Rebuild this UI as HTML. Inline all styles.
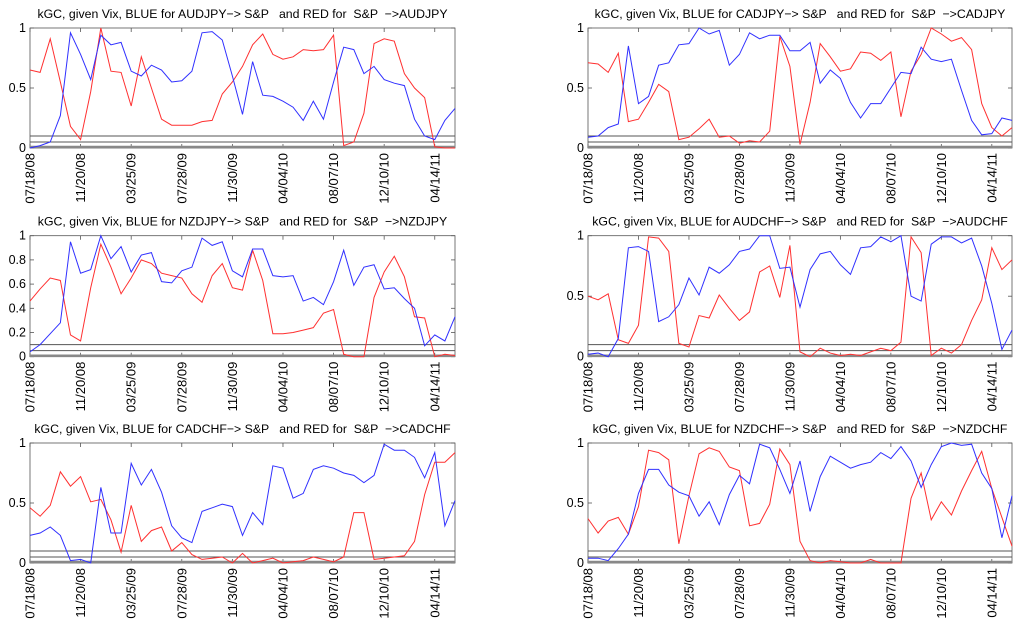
<!DOCTYPE html>
<html><head><meta charset="utf-8"><style>
body{margin:0;background:#fff;width:1024px;height:635px;overflow:hidden}
svg text{font-family:"Liberation Sans",sans-serif;fill:#000}
.ttl{white-space:pre}
</style></head><body>
<svg id="c" width="1024" height="635"></svg>
<script>
const dateLabels=["07/18/08","11/20/08","03/25/09","07/28/09","11/30/09","04/04/10","08/07/10","12/10/10","04/14/11"];
const pairs=["AUDJPY","CADJPY","NZDJPY","AUDCHF","CADCHF","NZDCHF"];
const blueAUDJPY=[0.0,0.02,0.05,0.27,0.96,0.78,0.57,0.94,0.86,0.88,0.64,0.60,0.69,0.65,0.55,0.56,0.64,0.96,0.97,0.90,0.60,0.28,0.72,0.44,0.43,0.39,0.34,0.23,0.39,0.24,0.55,0.84,0.82,0.62,0.68,0.57,0.54,0.52,0.24,0.10,0.07,0.23,0.33];
const redAUDJPY=[0.65,0.63,0.91,0.55,0.18,0.07,0.47,1.0,0.64,0.63,0.35,0.76,0.50,0.24,0.19,0.19,0.19,0.22,0.23,0.45,0.55,0.68,0.86,0.95,0.78,0.74,0.76,0.82,0.81,0.82,0.94,0.02,0.05,0.29,0.87,0.91,0.89,0.62,0.50,0.42,0.01,0.0,0.0];
const blueCADJPY=[0.09,0.10,0.17,0.20,0.85,0.37,0.43,0.69,0.71,0.86,0.87,1.0,0.95,0.98,0.69,0.78,0.96,0.91,0.94,0.94,0.81,0.81,0.88,0.54,0.65,0.58,0.38,0.25,0.37,0.37,0.50,0.63,0.62,0.84,0.74,0.72,0.74,0.48,0.23,0.11,0.12,0.25,0.23];
const redCADJPY=[0.71,0.70,0.63,0.79,0.22,0.24,0.38,0.53,0.47,0.07,0.09,0.16,0.24,0.09,0.10,0.04,0.06,0.05,0.14,0.93,0.68,0.03,0.38,0.87,0.76,0.64,0.66,0.80,0.79,0.73,0.80,0.26,0.64,0.78,1.0,0.95,0.89,0.92,0.82,0.37,0.17,0.10,0.17];
const blueNZDJPY=[0.04,0.10,0.19,0.28,0.95,0.69,0.72,1.0,0.81,0.91,0.70,0.84,0.86,0.62,0.61,0.71,0.74,0.98,0.92,0.95,0.71,0.66,0.89,0.89,0.67,0.66,0.67,0.46,0.49,0.43,0.62,0.88,0.59,0.74,0.76,0.56,0.57,0.48,0.40,0.09,0.18,0.13,0.33];
const redNZDJPY=[0.46,0.56,0.65,0.63,0.18,0.13,0.57,0.93,0.74,0.52,0.65,0.80,0.77,0.69,0.67,0.65,0.52,0.45,0.67,0.77,0.57,0.55,0.88,0.63,0.19,0.19,0.20,0.22,0.24,0.36,0.39,0.02,0.0,0.0,0.49,0.70,0.83,0.66,0.33,0.32,0.0,0.02,0.01];
const blueAUDCHF=[0.02,0.03,0.0,0.15,0.90,0.91,0.87,0.29,0.33,0.43,0.65,0.51,0.74,0.69,0.76,0.87,0.89,1.0,1.0,0.73,0.74,0.41,0.72,0.85,0.87,0.76,0.68,0.90,0.91,0.99,0.95,1.0,0.50,0.46,0.93,0.99,0.99,0.94,0.98,0.75,0.44,0.06,0.22];
const redAUDCHF=[0.50,0.47,0.52,0.14,0.11,0.26,0.99,0.98,0.87,0.11,0.08,0.34,0.32,0.51,0.40,0.30,0.37,0.70,0.75,0.49,0.92,0.04,0.0,0.07,0.03,0.01,0.02,0.01,0.04,0.07,0.05,0.12,0.99,0.86,0.01,0.07,0.03,0.10,0.30,0.47,0.90,0.72,0.80];
const blueCADCHF=[0.23,0.25,0.30,0.23,0.02,0.03,0.0,0.63,0.25,0.25,0.83,0.65,0.78,0.59,0.31,0.21,0.17,0.43,0.46,0.49,0.47,0.23,0.42,0.32,0.81,0.79,0.54,0.58,0.78,0.81,0.79,0.75,0.73,0.67,0.73,0.99,0.94,0.94,0.88,0.71,0.92,0.31,0.52];
const redCADCHF=[0.46,0.39,0.48,0.76,0.64,0.72,0.51,0.53,0.36,0.09,0.48,0.18,0.27,0.30,0.10,0.17,0.07,0.03,0.04,0.05,0.0,0.08,0.0,0.02,0.04,0.0,0.01,0.02,0.05,0.03,0.01,0.05,0.42,0.42,0.03,0.04,0.05,0.06,0.18,0.57,0.84,0.84,0.92];
const blueNZDCHF=[0.04,0.04,0.02,0.12,0.24,0.58,0.78,0.78,0.65,0.59,0.56,0.39,0.51,0.32,0.57,0.73,0.66,0.99,0.96,0.78,0.58,0.85,0.43,0.72,0.89,0.84,0.79,0.82,0.84,0.92,0.87,0.97,0.85,0.63,0.82,0.97,1.0,0.98,0.99,0.75,0.62,0.21,0.56];
const redNZDCHF=[0.37,0.25,0.35,0.38,0.24,0.47,0.94,0.92,0.86,0.16,0.56,0.91,0.96,0.93,0.80,0.77,0.31,0.33,0.49,0.95,0.82,0.18,0.02,0.0,0.02,0.01,0.0,0.0,0.03,0.0,0.0,0.0,0.54,0.75,0.36,0.51,0.40,0.60,0.77,0.93,0.62,0.38,0.14];
const yTicksA=[0,0.5,1];
const yTicksB=[0,0.2,0.4,0.6,0.8,1];
const thresholds=[0.05,0.1];

const blues=[blueAUDJPY,blueCADJPY,blueNZDJPY,blueAUDCHF,blueCADCHF,blueNZDCHF];
const reds=[redAUDJPY,redCADJPY,redNZDJPY,redAUDCHF,redCADCHF,redNZDCHF];
const svg=document.getElementById('c');
const NS='http://www.w3.org/2000/svg';
function mk(tag,attrs,parent){const e=document.createElementNS(NS,tag);for(const k in attrs)e.setAttribute(k,attrs[k]);(parent||svg).appendChild(e);return e;}
const cols=[[30,455],[588,1012]];
const rows=[[28,148],[235.7,356.7],[443,563]];
for(let p=0;p<6;p++){
  const r=Math.floor(p/2),c=p%2;
  const [x0,x1]=cols[c],[y0,y1]=rows[r];
  const g=mk('g',{});
  
  
  const n=blues[p].length;
  const X=i=>x0+i*(x1-x0)/(n-1);
  const Y=v=>y1-v*(y1-y0);
  const t=mk('text',{x:(x0+x1)/2,y:y0-10,'text-anchor':'middle','font-size':'12.3','class':'ttl'},g);
  t.textContent='kGC, given Vix, BLUE for '+pairs[p]+'\u2212> S&P   and RED for  S&P  \u2212>'+pairs[p];
  
  
  mk('rect',{x:x0,y:y0,width:x1-x0,height:y1-y0,fill:'#fff',stroke:'#555','stroke-width':0.8},g);
  const yt=(p===2)?yTicksB:yTicksA;
  yt.forEach(v=>{
    mk('line',{x1:x0,x2:x0+4,y1:Y(v),y2:Y(v),stroke:'#555','stroke-width':0.8},g);
    mk('line',{x1:x1,x2:x1-4,y1:Y(v),y2:Y(v),stroke:'#555','stroke-width':0.8},g);
    const l=mk('text',{x:x0-4,y:Y(v)+4,'text-anchor':'end','font-size':'12.5'},g);
    l.textContent=String(v);
    
    
  });
  dateLabels.forEach((d,k)=>{
    const x=X(k*5);
    mk('line',{x1:x,x2:x,y1:y1,y2:y1-4,stroke:'#555','stroke-width':0.8},g);
    mk('line',{x1:x,x2:x,y1:y0,y2:y0+4,stroke:'#555','stroke-width':0.8},g);
    const l=mk('text',{x:0,y:0,'text-anchor':'end','font-size':'13',transform:`translate(${x+4.5},${y1+5}) rotate(-90)`},g);
    l.textContent=d;
    
    
  });
  thresholds.forEach(v=>{
    const h=mk('line',{x1:x0,x2:x1,y1:Y(v),y2:Y(v),stroke:'#555','stroke-width':1},g);
    
    
  });
  const b=mk('line',{x1:x0,x2:x1,y1:y1-1,y2:y1-1,stroke:'#888','stroke-width':2.5},g);
  
  
  const rp=mk('polyline',{points:reds[p].map((v,i)=>X(i)+','+Y(v)).join(' '),fill:'none',stroke:'#ff3030','stroke-width':1},g);
  
  
  const bp=mk('polyline',{points:blues[p].map((v,i)=>X(i)+','+Y(v)).join(' '),fill:'none',stroke:'#3030ff','stroke-width':1},g);
  
  
}
</script>
</body></html>
